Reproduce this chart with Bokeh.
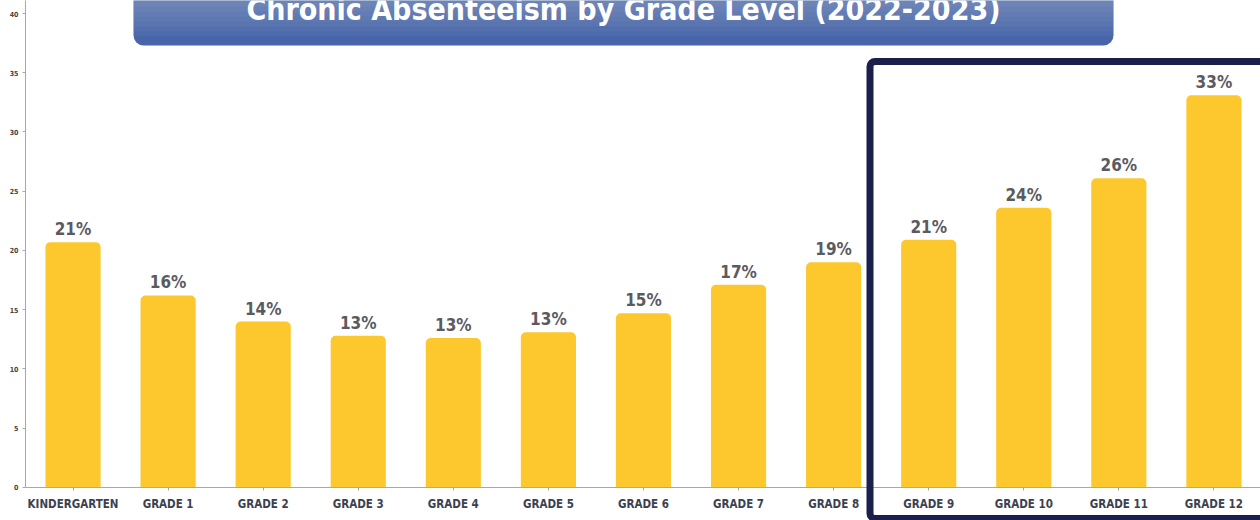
from bokeh.plotting import figure
from bokeh.models import (Range1d, FixedTicker, BoxAnnotation, Label, LabelSet,
                          ColumnDataSource)
from bokeh.core.properties import value
from bokeh.embed import file_html
from bokeh.resources import INLINE

# ---- data -------------------------------------------------------------
categories = ["KINDERGARTEN", "GRADE 1", "GRADE 2", "GRADE 3", "GRADE 4",
              "GRADE 5", "GRADE 6", "GRADE 7", "GRADE 8", "GRADE 9",
              "GRADE 10", "GRADE 11", "GRADE 12"]
rates = [20.7, 16.2, 14.0, 12.8, 12.6, 13.1, 14.7, 17.1, 19.0, 20.9, 23.6, 26.1, 33.1]
rate_labels = ["21%", "16%", "14%", "13%", "13%", "13%", "15%", "17%", "19%",
               "21%", "24%", "26%", "33%"]
y_ticks = [0, 5, 10, 15, 20, 25, 30, 35, 40]
title_text = "Chronic Absenteeism by Grade Level (2022-2023)"

# ---- styling ----------------------------------------------------------
FONT = "DejaVu Sans Condensed"
BAR = "#FDC82E"
NAVY = "#1B1F4C"
H = 520        # frame height = canvas height; screen-unit y measured up from bottom
FRAME_L = 25   # frame left offset in px; screen-unit x measured from here

xs = list(range(len(categories)))
src = ColumnDataSource(dict(x=xs, top=rates, label=rate_labels))

p = figure(width=1260, height=H, output_backend="svg", toolbar_location=None,
           x_range=Range1d(-0.5, 12.49), y_range=Range1d(-2.8, 41.1),
           min_border_left=FRAME_L, min_border_right=0, min_border_top=0,
           min_border_bottom=0)
p.outline_line_color = None
p.xgrid.grid_line_color = None
p.ygrid.grid_line_color = None
p.background_fill_color = "white"
p.border_fill_color = "white"

p.vbar(x="x", top="top", bottom=0, width=0.58, source=src, fill_color=BAR,
       line_color=None, border_radius=(5, 5, 0, 0))

p.add_layout(LabelSet(x="x", y="top", text="label", source=src, y_offset=7,
                      text_align="center", text_baseline="alphabetic",
                      text_font=value(FONT), text_font_style="bold",
                      text_font_size="17px", text_color="#5b5b5f"))

# axes
p.xaxis.fixed_location = 0
p.xaxis.ticker = FixedTicker(ticks=xs)
p.xaxis.major_label_overrides = {i: c for i, c in enumerate(categories)}
p.xaxis.major_label_text_font = FONT
p.xaxis.major_label_text_font_style = "bold"
p.xaxis.major_label_text_font_size = "11.5px"
p.xaxis.major_label_text_color = "#3b4150"
p.xaxis.axis_line_color = "#a8a8a8"
p.xaxis.major_tick_line_color = "#a8a8a8"
p.xaxis.major_tick_out = 3
p.xaxis.major_tick_in = 0
p.xaxis.minor_tick_line_color = None
p.xaxis.major_label_standoff = 7

p.yaxis.bounds = (0, 41.1)
p.yaxis.ticker = FixedTicker(ticks=y_ticks)
p.yaxis.major_label_text_font = FONT
p.yaxis.major_label_text_font_style = "bold"
p.yaxis.major_label_text_font_size = "7px"
p.yaxis.major_label_text_color = "#444444"
p.yaxis.axis_line_color = "#a8a8a8"
p.yaxis.major_tick_line_color = "#a8a8a8"
p.yaxis.major_tick_out = 3
p.yaxis.major_tick_in = 0
p.yaxis.minor_tick_line_color = None
p.yaxis.major_label_standoff = 4

# highlight box around high-school grades
p.add_layout(BoxAnnotation(left=869.5 - FRAME_L, right=1300, top=H - 61, bottom=H - 518,
                           left_units="screen", right_units="screen",
                           top_units="screen", bottom_units="screen",
                           fill_color=None, fill_alpha=0, line_color=NAVY,
                           line_alpha=1.0, line_width=7,
                           border_radius=5, level="overlay"))

# title banner (gradient emulated with stacked translucent strips)
BL, BR = 133 - FRAME_L, 1113 - FRAME_L
p.add_layout(BoxAnnotation(left=BL, right=BR, top=H + 40, bottom=H - 45,
                           left_units="screen", right_units="screen",
                           top_units="screen", bottom_units="screen",
                           fill_color="#4765A8", fill_alpha=1.0, line_color=None,
                           border_radius=10, level="overlay"))
for b in [36, 31, 26, 21, 16, 11, 6]:
    p.add_layout(BoxAnnotation(left=BL, right=BR, top=H + 40,
                               bottom=H - b,
                               left_units="screen", right_units="screen",
                               top_units="screen", bottom_units="screen",
                               fill_color="white", fill_alpha=0.035,
                               line_color=None, level="overlay"))
p.add_layout(Label(x=(BL + BR) / 2, y=H - 9, x_units="screen", y_units="screen",
                   text=title_text, text_align="center",
                   text_baseline="alphabetic", text_font=FONT,
                   text_font_style="bold", text_font_size="30px",
                   text_color="white", level="overlay"))

open("out.html", "w").write(file_html(p, INLINE))
